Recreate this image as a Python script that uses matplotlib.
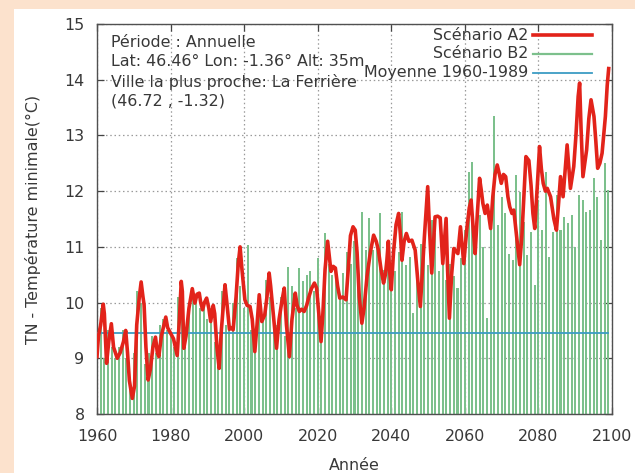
import numpy as np
import matplotlib
matplotlib.use("Agg")
import matplotlib.pyplot as plt
from matplotlib.patches import Rectangle

# --- data -------------------------------------------------------------
# Scenario A2: smoothed minimum temperature (fractional years)
a2_years = [
    1960.0, 1960.4, 1961.0, 1961.7, 1962.0, 1962.6, 1963.2, 1963.9, 1964.5, 1965.5,
    1966.3, 1967.2, 1967.8, 1968.3, 1968.8, 1969.6, 1970.2, 1970.8, 1971.5, 1972.0,
    1972.5, 1972.8, 1973.3, 1973.9, 1974.5, 1975.2, 1975.9, 1976.4, 1976.8, 1977.5,
    1978.2, 1978.7, 1979.2, 1980.0, 1980.8, 1981.8, 1982.4, 1982.9, 1983.2, 1983.6,
    1984.2, 1985.0, 1985.9, 1986.6, 1987.2, 1987.8, 1988.2, 1988.7, 1989.2, 1989.8,
    1990.4, 1990.9, 1991.6, 1992.0, 1992.6, 1993.2, 1993.8, 1994.8, 1995.3, 1996.0,
    1996.5, 1997.0, 1997.8, 1998.4, 1998.9, 1999.4, 2000.2, 2000.8, 2001.6, 2002.2,
    2002.9, 2003.5, 2004.1, 2004.8, 2005.6, 2006.2, 2006.8, 2007.2, 2007.6, 2008.2,
    2008.8, 2009.5, 2010.2, 2010.9, 2011.5, 2012.3, 2013.0, 2013.9, 2014.4, 2015.0,
    2015.6, 2016.3, 2017.0, 2017.5, 2018.3, 2019.1, 2019.7, 2020.3, 2020.9, 2021.4,
    2022.0, 2022.7, 2023.2, 2023.6, 2024.2, 2024.8, 2025.4, 2026.0, 2026.8, 2027.7,
    2028.3, 2028.9, 2029.6, 2030.2, 2030.7, 2031.3, 2032.0, 2032.6, 2033.4, 2034.3,
    2035.2, 2035.9, 2036.5, 2037.2, 2037.9, 2038.4, 2038.8, 2039.2, 2039.5, 2040.0,
    2040.6, 2041.3, 2042.0, 2042.5, 2042.9, 2043.5, 2044.1, 2044.8, 2045.6, 2046.5,
    2047.2, 2047.9, 2048.5, 2049.0, 2049.9, 2050.4, 2051.0, 2051.5, 2051.9, 2052.6,
    2053.3, 2054.0, 2054.9, 2055.3, 2055.8, 2056.4, 2057.0, 2058.1, 2058.8, 2059.7,
    2060.5, 2061.2, 2061.7, 2062.3, 2062.8, 2063.4, 2064.0, 2064.5, 2064.9, 2065.5,
    2066.1, 2067.0, 2067.6, 2068.2, 2068.8, 2069.4, 2069.9, 2070.5, 2071.1, 2071.7,
    2072.2, 2072.8, 2073.3, 2074.2, 2074.9, 2075.5, 2076.0, 2076.6, 2077.4, 2078.0,
    2078.5, 2079.0, 2079.7, 2080.3, 2080.8, 2081.3, 2081.9, 2082.4, 2083.3, 2084.2,
    2084.9, 2085.5, 2086.0, 2086.7, 2087.3, 2087.8, 2088.3, 2088.7, 2089.6, 2090.2,
    2090.8, 2091.2, 2091.6, 2092.1, 2093.1, 2093.7, 2094.3, 2095.1, 2095.6, 2096.1,
    2096.7, 2097.3, 2098.2, 2098.7, 2099.1,
]
a2_temp = [
    9.03, 9.40, 9.60, 9.97, 9.80, 8.91, 9.30, 9.62, 9.20, 9.00,
    9.10, 9.30, 9.50, 9.10, 8.60, 8.28, 8.50, 9.60, 10.10, 10.37,
    10.10, 9.96, 9.20, 8.61, 8.80, 9.20, 9.38, 9.10, 9.03, 9.40,
    9.60, 9.74, 9.55, 9.45, 9.35, 9.05, 9.70, 10.38, 10.20, 9.18,
    9.40, 9.90, 10.25, 9.99, 10.15, 10.17, 10.00, 9.87, 10.00, 10.08,
    9.90, 9.66, 9.95, 9.80, 9.20, 8.82, 9.50, 10.32, 10.00, 9.52,
    9.55, 9.51, 10.10, 10.70, 11.00, 10.60, 10.05, 9.95, 9.93, 9.70,
    9.12, 9.60, 10.14, 9.66, 9.78, 10.10, 10.53, 10.30, 10.02, 9.60,
    9.18, 9.70, 10.00, 10.26, 9.60, 9.03, 9.70, 10.17, 9.95, 9.84,
    9.88, 9.84, 9.95, 10.08, 10.25, 10.35, 10.26, 9.80, 9.30, 9.80,
    10.60, 11.10, 10.80, 10.56, 10.65, 10.62, 10.30, 10.08, 10.10, 10.05,
    10.60, 11.20, 11.36, 11.30, 10.90, 10.10, 9.63, 9.90, 10.47, 10.90,
    11.21, 11.10, 10.94, 10.60, 10.35, 10.50, 10.76, 11.10, 10.60, 10.23,
    10.90, 11.40, 11.60, 11.20, 10.76, 11.10, 11.24, 11.10, 11.12, 10.94,
    10.40, 9.93, 10.60, 11.18, 12.08, 11.30, 10.53, 11.10, 11.54, 11.55,
    11.52, 10.70, 11.51, 10.60, 9.72, 10.50, 10.97, 10.88, 11.36, 10.70,
    11.30, 11.70, 11.84, 11.30, 10.88, 11.60, 12.23, 12.00, 11.78, 11.60,
    11.75, 11.33, 11.90, 12.30, 12.47, 12.30, 12.14, 12.30, 12.26, 11.90,
    11.72, 11.60, 11.66, 11.10, 10.68, 11.20, 11.84, 12.62, 12.55, 12.10,
    11.60, 11.33, 12.10, 12.80, 12.40, 12.14, 12.00, 12.05, 11.90, 11.50,
    11.30, 11.80, 12.26, 11.90, 12.40, 12.83, 12.40, 12.05, 12.44, 13.00,
    13.70, 13.94, 13.10, 12.26, 12.74, 13.30, 13.64, 13.34, 12.90, 12.41,
    12.50, 12.68, 13.34, 13.90, 14.20,
]

# Scenario B2: annual values
b2_years = list(range(1960, 2100))
b2_temp = [
    9.30, 9.90, 9.00, 9.50, 9.20, 9.00, 9.20, 9.50, 9.00, 8.50,
    9.10, 10.20, 10.00, 8.90, 9.10, 9.40, 9.10, 9.60, 9.70, 9.50,
    9.40, 9.20, 10.10, 10.20, 9.40, 10.00, 10.10, 10.10, 9.90, 10.00,
    9.70, 9.90, 9.30, 8.90, 10.20, 9.60, 9.50, 10.00, 10.80, 10.30,
    9.90, 11.03, 9.50, 9.20, 10.00, 9.70, 10.40, 10.10, 9.81, 9.60,
    10.10, 9.40, 10.64, 10.30, 9.90, 10.62, 10.39, 10.50, 10.56, 10.20,
    10.80, 9.40, 11.24, 10.70, 10.50, 10.40, 10.10, 10.53, 10.90, 10.70,
    11.10, 10.80, 11.63, 10.94, 11.51, 10.94, 11.00, 11.60, 10.59, 11.12,
    10.23, 10.56, 10.90, 11.63, 10.67, 10.82, 9.81, 10.65, 11.06, 10.91,
    10.67, 11.48, 11.24, 10.56, 10.90, 10.40, 10.70, 10.48, 10.27, 10.80,
    11.30, 12.35, 12.53, 10.87, 11.57, 11.00, 9.72, 11.51, 13.34, 11.39,
    11.90, 11.60, 10.88, 10.76, 12.29, 11.99, 11.45, 10.85, 11.27, 10.32,
    11.84, 11.30, 12.35, 10.81, 11.27, 11.93, 11.30, 11.54, 11.43, 11.57,
    11.00, 11.93, 11.84, 11.63, 11.66, 12.23, 11.90, 11.12, 12.50, 12.02,
]

# 1960-1989 reference mean
ref_years = [1960, 2099]
ref_mean = 9.45

x_ticks = [1960, 1980, 2000, 2020, 2040, 2060, 2080, 2100]
y_ticks = [8, 9, 10, 11, 12, 13, 14, 15]

info_lines = [
    "Période : Annuelle",
    "Lat: 46.46° Lon: -1.36° Alt: 35m",
    "Ville la plus proche: La Ferrière",
    "(46.72 , -1.32)",
]
legend_labels = ["Scénario A2", "Scénario B2", "Moyenne 1960-1989"]

# --- style ------------------------------------------------------------
RED = "#e2231a"
GREEN = "#7cc08c"
BLUE = "#3c9cc4"
PEACH = "#fce2cd"
TEXT = "#383838"
FS = 11.4

plt.rcParams["font.family"] = ["DejaVu Sans"]

fig = plt.figure(figsize=(6.35, 4.73), dpi=100, facecolor=PEACH)
# white panel inside the peach frame
fig.patches.append(Rectangle((14 / 635, 0), 1 - 14 / 635, 1 - 9 / 473,
                             transform=fig.transFigure, facecolor="white",
                             edgecolor="none", zorder=-5))

ax = fig.add_axes([97 / 635, 1 - 414 / 473, (612 - 97) / 635, (414 - 24) / 473])
ax.set_facecolor("white")

# bars for B2
b2_heights = np.array(b2_temp) - 8
ax.bar(b2_years, b2_heights, bottom=8, width=0.55, color=GREEN,
       edgecolor="none", zorder=2)

# reference mean
ax.plot(ref_years, [ref_mean, ref_mean], color=BLUE, lw=1.3, zorder=3)

# A2 curve
ax.plot(a2_years, a2_temp, color=RED, lw=2.6, solid_joinstyle="round",
        zorder=4)

ax.set_xlim(1960, 2100)
ax.set_ylim(8, 15)
ax.set_xticks(x_ticks)
ax.set_yticks(y_ticks)
ax.tick_params(direction="in", length=5, width=0.9, top=True, right=True,
               labelsize=FS, colors="#444444", labelcolor=TEXT)
ax.tick_params(axis="x", pad=11)
ax.tick_params(axis="y", pad=9)
for s in ax.spines.values():
    s.set_color("#505050")
    s.set_linewidth(1.0)
ax.grid(True, color="#9a9a9a", linestyle=(0, (1.2, 2.2)), linewidth=0.9)
ax.set_axisbelow(True)

ax.set_xlabel("Année", fontsize=FS, color=TEXT, labelpad=10)
ax.set_ylabel("TN - Température minimale(°C)", fontsize=FS, color=TEXT,
              labelpad=17)

# station information block
for i, line in enumerate(info_lines):
    fig.text(111 / 635, 1 - (42.5 + 19.5 * i) / 473, line, fontsize=FS,
             color=TEXT, ha="left", va="center", zorder=6)

# legend drawn gnuplot-style: right-aligned labels followed by samples
legend_styles = [(RED, 2.6), (GREEN, 1.6), (BLUE, 1.3)]
for i, (label, (col, lw)) in enumerate(zip(legend_labels, legend_styles)):
    yy = 1 - (35 + 19 * i) / 473
    fig.text(528 / 635, yy, label, fontsize=FS, color=TEXT, ha="right",
             va="center", zorder=6)
    fig.add_artist(plt.Line2D([533 / 635, 592 / 635], [yy, yy], color=col,
                              lw=lw, transform=fig.transFigure, zorder=6))

fig.savefig("out.png", dpi=100, facecolor=PEACH)
